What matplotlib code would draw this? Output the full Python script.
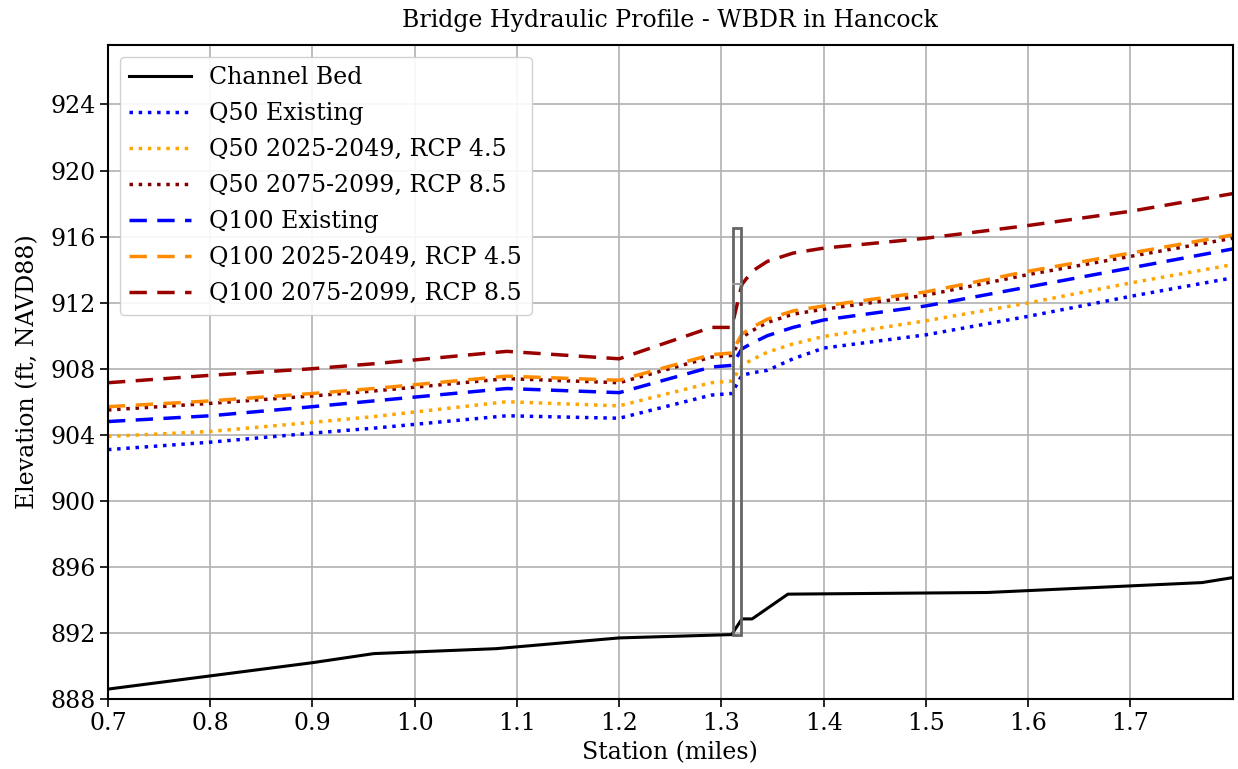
import matplotlib
matplotlib.use("Agg")
import matplotlib.pyplot as plt
from matplotlib.patches import Rectangle

# ---------------- data ----------------
bed_station = [0.70, 0.80, 0.90, 0.96, 1.08, 1.20, 1.31, 1.32, 1.33, 1.365, 1.56, 1.77, 1.80]
bed_elev = [888.6, 889.4, 890.2, 890.75, 891.05, 891.7, 891.9, 892.85, 892.85, 894.35, 894.45, 895.05, 895.35]

ws_station = [0.70, 0.80, 0.90, 0.96, 1.09, 1.20, 1.29, 1.31, 1.32, 1.33, 1.345, 1.37, 1.40, 1.50, 1.60, 1.70, 1.80]
q50_existing = [903.1, 903.55, 904.1, 904.4, 905.15, 905.0, 906.4, 906.5, 907.6, 907.75, 907.9, 908.6, 909.25, 910.05, 911.17, 912.38, 913.5]
q50_45 = [903.9, 904.2, 904.75, 905.1, 906.0, 905.75, 907.15, 907.25, 908.2, 908.55, 909.0, 909.5, 909.95, 910.9, 911.98, 913.19, 914.3]
q50_85 = [905.5, 905.9, 906.35, 906.65, 907.4, 907.15, 908.7, 908.8, 909.9, 910.3, 910.8, 911.3, 911.6, 912.45, 913.7, 914.8, 915.9]
q100_existing = [904.8, 905.15, 905.7, 906.05, 906.8, 906.55, 908.1, 908.2, 909.2, 909.55, 910.0, 910.5, 910.95, 911.8, 912.95, 914.1, 915.25]
q100_45 = [905.7, 906.05, 906.5, 906.8, 907.55, 907.3, 908.85, 908.95, 910.1, 910.5, 911.0, 911.5, 911.8, 912.65, 913.9, 915.0, 916.1]
q100_85 = [907.15, 907.6, 908.0, 908.3, 909.05, 908.6, 910.5, 910.5, 913.1, 913.9, 914.5, 915.0, 915.3, 915.9, 916.67, 917.53, 918.6]

bridge_left, bridge_right = 1.311, 1.319
bridge_bottom, bridge_low_chord, bridge_top = 891.9, 913.1, 916.5

labels = ["Channel Bed", "Q50 Existing", "Q50 2025-2049, RCP 4.5", "Q50 2075-2099, RCP 8.5",
          "Q100 Existing", "Q100 2025-2049, RCP 4.5", "Q100 2075-2099, RCP 8.5"]
x_ticks = [0.7, 0.8, 0.9, 1.0, 1.1, 1.2, 1.3, 1.4, 1.5, 1.6, 1.7]
y_ticks = list(range(888, 925, 4))

# ---------------- plot ----------------
plt.rcParams['font.family'] = ['DejaVu Serif']
fig = plt.figure(figsize=(12.38, 7.69), dpi=100)
ax = fig.add_axes([0.0872, 0.091, 0.9085, 0.8505])

ax.plot(bed_station, bed_elev, color='black', lw=2.2, label=labels[0])
ax.plot(ws_station, q50_existing, color='blue', ls=':', lw=2.5, label=labels[1])
ax.plot(ws_station, q50_45, color='orange', ls=':', lw=2.5, label=labels[2])
ax.plot(ws_station, q50_85, color='#800000', ls=':', lw=2.5, label=labels[3])
ax.plot(ws_station, q100_existing, color='blue', ls=(0, (5, 3)), lw=2.5, label=labels[4])
ax.plot(ws_station, q100_45, color='darkorange', ls=(0, (5, 3)), lw=2.5, label=labels[5])
ax.plot(ws_station, q100_85, color='#990000', ls=(0, (5, 3)), lw=2.5, label=labels[6])

ax.add_patch(Rectangle((bridge_left, bridge_bottom), bridge_right - bridge_left,
                       bridge_top - bridge_bottom, fill=False, edgecolor='#666666', lw=2, zorder=3))
ax.plot([bridge_left, bridge_right], [bridge_low_chord, bridge_low_chord], color='#999999', lw=1.5, zorder=3)

ax.set_xlim(0.7, 1.8)
ax.set_ylim(888, 927.6)
ax.set_xticks(x_ticks)
ax.set_yticks(y_ticks)
ax.tick_params(labelsize=17, length=6, width=1.2, pad=3)
ax.grid(True, color='#b0b0b0', lw=1.2)
for s in ax.spines.values():
    s.set_linewidth(1.5)

ax.set_xlabel("Station (miles)", fontsize=17, labelpad=5)
ax.set_ylabel("Elevation (ft, NAVD88)", fontsize=17, labelpad=8)
ax.set_title("Bridge Hydraulic Profile - WBDR in Hancock", fontsize=17, pad=13)
ax.legend(loc='upper left', fontsize=17, framealpha=0.9, borderaxespad=0.5,
          handlelength=2.6, labelspacing=0.55)

fig.savefig("out.png", dpi=100)
